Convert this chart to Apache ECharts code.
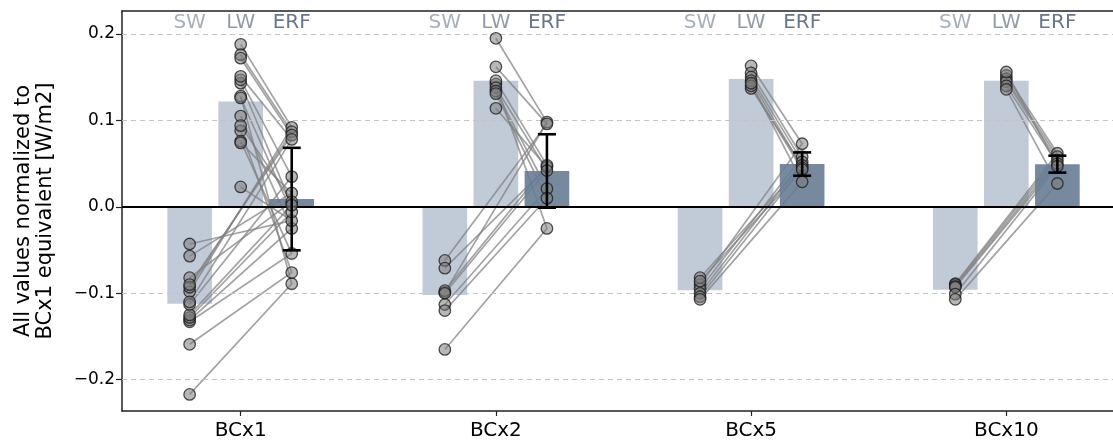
<!DOCTYPE html>
<html>
<head>
<meta charset="utf-8">
<script src="https://cdn.jsdelivr.net/npm/echarts@6/dist/echarts.min.js"></script>
<style>
  html, body { margin: 0; padding: 0; background: #fff; overflow: hidden; width: 1113px; height: 441px; }
  /* plot area runs a little past the right edge of the page */
  #chart { width: 1125px; height: 441px; }
</style>
</head>
<body>
<div id="chart"></div>
<script>
// Experiment groups (BC scaling factors) and flux components
const categories = ['BCx1', 'BCx2', 'BCx5', 'BCx10'];
const components = ['SW', 'LW', 'ERF'];

// Per-model values, one list per group (same model order in SW / LW / ERF)
const swModels = [
  [-0.217, -0.159, -0.133, -0.131, -0.043, -0.057, -0.082, -0.128, -0.125, -0.113, -0.098, -0.093, -0.090, -0.110],
  [-0.165, -0.099, -0.062, -0.071, -0.097, -0.100, -0.113, -0.120],
  [-0.090, -0.095, -0.100, -0.082, -0.104, -0.086, -0.107],
  [-0.089, -0.090, -0.092, -0.093, -0.101, -0.107]
];
const lwModels = [
  [0.128, 0.088, 0.076, 0.105, 0.023, 0.074, 0.094, 0.126, 0.143, 0.147, 0.188, 0.176, 0.172, 0.151],
  [0.142, 0.195, 0.162, 0.114, 0.146, 0.138, 0.134, 0.131],
  [0.163, 0.155, 0.150, 0.137, 0.146, 0.140, 0.143],
  [0.152, 0.148, 0.145, 0.140, 0.156, 0.136]
];
const erfModels = [
  [-0.089, -0.076, -0.054, -0.025, -0.016, 0.016, 0.006, -0.006, 0.002, 0.035, 0.092, 0.087, 0.083, 0.078],
  [-0.025, 0.098, 0.096, 0.046, 0.048, 0.042, 0.021, 0.010],
  [0.073, 0.058, 0.052, 0.048, 0.045, 0.043, 0.029],
  [0.062, 0.058, 0.054, 0.050, 0.047, 0.027]
];

// Multi-model means and ERF spread
const swMean = [-0.112, -0.102, -0.0965, -0.096];
const lwMean = [0.122, 0.146, 0.148, 0.146];
const erfMean = [0.009, 0.0415, 0.0495, 0.0494];
const erfSpread = [0.0593, 0.0425, 0.0135, 0.0098];

// Axis ticks
const yTicks = [-0.2, -0.1, 0.0, 0.1, 0.2];
const yGridLines = [-0.2, -0.1, 0.1, 0.2];

// ---- layout / style constants ----
const FONT = 'DejaVu Sans';
const OFFSET = { SW: -0.2, LW: 0.0, ERF: 0.2 };
const BAR_HALF = 0.0875;
const HEADER_Y = 0.2135;
const barColors = { SW: 'rgba(108,132,162,0.42)', LW: 'rgba(108,132,162,0.42)', ERF: 'rgba(104,124,148,0.9)' };
const headerColors = { SW: '#a7b0ba', LW: '#929ca7', ERF: '#677688' };

const lightBarData = [];
const erfBarData = [];
categories.forEach((c, g) => {
  lightBarData.push([g + OFFSET.SW, swMean[g], 0]);
  lightBarData.push([g + OFFSET.LW, lwMean[g], 1]);
  erfBarData.push([g + OFFSET.ERF, erfMean[g], 2]);
});

const linkData = [];
const pointData = [];
categories.forEach((c, g) => {
  swModels[g].forEach((sw, i) => {
    const lw = lwModels[g][i], erf = erfModels[g][i];
    linkData.push([g, sw, lw, erf]);
    pointData.push([g + OFFSET.SW, sw]);
    pointData.push([g + OFFSET.LW, lw]);
    pointData.push([g + OFFSET.ERF, erf]);
  });
});

const errData = categories.map((c, g) => [g + OFFSET.ERF, erfMean[g], erfSpread[g]]);
const headerData = [];
categories.forEach((c, g) => components.forEach((k, j) => headerData.push([g + OFFSET[k], HEADER_Y, j])));

function renderBar(params, api) {
  const x = api.value(0), y = api.value(1);
  const comp = components[api.value(2)];
  const a = api.coord([x - BAR_HALF, y]);
  const b = api.coord([x + BAR_HALF, 0]);
  return {
    type: 'rect',
    shape: { x: a[0], y: Math.min(a[1], b[1]), width: b[0] - a[0], height: Math.abs(b[1] - a[1]) },
    style: { fill: barColors[comp] }
  };
}

// each model: SW -> ERF <- LW
function renderLink(params, api) {
  const g = api.value(0);
  const pts = [
    api.coord([g + OFFSET.SW, api.value(1)]),
    api.coord([g + OFFSET.ERF, api.value(3)]),
    api.coord([g + OFFSET.LW, api.value(2)])
  ];
  return {
    type: 'polyline',
    shape: { points: pts },
    style: { stroke: 'rgba(128,128,128,0.72)', lineWidth: 1.7, fill: null }
  };
}

function renderErr(params, api) {
  const x = api.value(0), m = api.value(1), e = api.value(2);
  const top = api.coord([x, m + e]);
  const bot = api.coord([x, m - e]);
  const cap = 9;
  const st = { stroke: '#000', lineWidth: 2.6 };
  return {
    type: 'group',
    children: [
      { type: 'line', shape: { x1: top[0], y1: top[1], x2: bot[0], y2: bot[1] }, style: st },
      { type: 'line', shape: { x1: top[0] - cap, y1: top[1], x2: top[0] + cap, y2: top[1] }, style: st },
      { type: 'line', shape: { x1: bot[0] - cap, y1: bot[1], x2: bot[0] + cap, y2: bot[1] }, style: st }
    ]
  };
}

function renderHeader(params, api) {
  const p = api.coord([api.value(0), api.value(1)]);
  const comp = components[api.value(2)];
  return {
    type: 'text',
    x: p[0], y: p[1],
    style: { text: comp, fill: headerColors[comp], font: '20px "' + FONT + '"', align: 'center', verticalAlign: 'middle' }
  };
}

const fmtY = v => (v < 0 ? '\u2212' : '') + Math.abs(v).toFixed(1);

const chart = echarts.init(document.getElementById('chart'), null, { renderer: 'canvas' });
chart.setOption({
  animation: false,
  backgroundColor: '#fff',
  textStyle: { fontFamily: FONT },
  grid: { left: 122, right: 0, top: 11, bottom: 30, containLabel: false },
  xAxis: [
    {
      type: 'value', min: -0.465, max: 3.465, position: 'bottom',
      axisLine: { show: true, onZero: false, lineStyle: { color: '#222', width: 1.5 } },
      axisTick: { show: true, customValues: [0, 1, 2, 3], length: 5, lineStyle: { color: '#222', width: 1.2 } },
      axisLabel: { show: true, customValues: [0, 1, 2, 3], formatter: v => categories[Math.round(v)],
        fontSize: 20, color: '#000', fontFamily: FONT, margin: 10 },
      splitLine: { show: false }
    },
    {
      type: 'value', min: -0.465, max: 3.465, position: 'top',
      axisLine: { show: true, onZero: false, lineStyle: { color: '#222', width: 1.5 } },
      axisTick: { show: false }, axisLabel: { show: false }, splitLine: { show: false }
    }
  ],
  yAxis: {
    type: 'value', min: -0.2362, max: 0.2266,
    name: 'All values normalized to\nBCx1 equivalent [W/m2]',
    nameLocation: 'middle', nameRotate: 90, nameGap: 65,
    nameTextStyle: { fontSize: 21, color: '#000', fontFamily: FONT, lineHeight: 22 },
    axisLine: { show: true, onZero: false, lineStyle: { color: '#222', width: 1.5 } },
    axisTick: { show: true, customValues: yTicks, length: 6, lineStyle: { color: '#222', width: 1.2 } },
    axisLabel: { show: true, customValues: yTicks, formatter: fmtY, fontSize: 17, color: '#000', fontFamily: FONT, margin: 7 },
    splitLine: { show: false }
  },
  series: [
    {
      name: 'grid', type: 'line', data: [], z: 0, silent: true,
      markLine: {
        silent: true, symbol: 'none', label: { show: false },
        lineStyle: { color: '#c4c4c4', type: [5, 4], width: 1 },
        data: yGridLines.map(v => ({ yAxis: v }))
      }
    },
    { name: 'SW/LW', type: 'custom', renderItem: renderBar, data: lightBarData, z: 1, silent: true, encode: { x: 0, y: 1 } },
    { name: 'links', type: 'custom', renderItem: renderLink, data: linkData, z: 2, silent: true, encode: { x: 0, y: 1 } },
    { name: 'ERF', type: 'custom', renderItem: renderBar, data: erfBarData, z: 3, silent: true, encode: { x: 0, y: 1 } },
    {
      name: 'zero', type: 'line', data: [], z: 4, silent: true,
      markLine: {
        silent: true, symbol: 'none', label: { show: false },
        lineStyle: { color: '#000', type: 'solid', width: 1.8 },
        data: [{ yAxis: 0 }]
      }
    },
    {
      name: 'models', type: 'scatter', data: pointData, z: 5, silent: true,
      symbol: 'circle', symbolSize: 11.5,
      itemStyle: { color: 'rgba(125,125,125,0.55)', borderColor: 'rgba(25,25,25,0.75)', borderWidth: 1.3, opacity: 1 }
    },
    { name: 'spread', type: 'custom', renderItem: renderErr, data: errData, z: 6, silent: true, encode: { x: 0, y: 1 } },
    { name: 'headers', type: 'custom', renderItem: renderHeader, data: headerData, z: 7, silent: true, encode: { x: 0, y: 1 } }
  ]
});
</script>
</body>
</html>
